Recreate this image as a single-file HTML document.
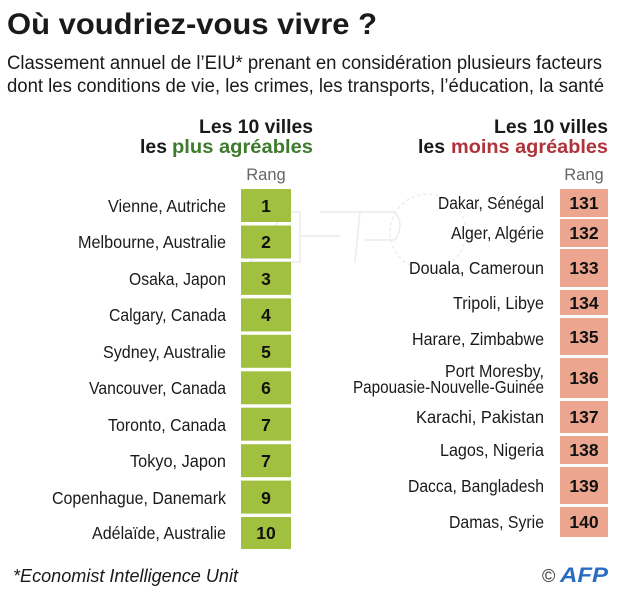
<!DOCTYPE html>
<html><head><meta charset="utf-8"><style>
html,body{margin:0;padding:0;background:#fff;}
svg{display:block;}
text{font-family:"Liberation Sans",sans-serif;fill:#1a1a1a;}
.lab{font-size:17.5px;}
.num{font-size:17.5px;font-weight:bold;fill:#111;}
.hd{font-size:19px;font-weight:bold;}
</style></head><body>
<svg width="623" height="591" viewBox="0 0 623 591" xmlns="http://www.w3.org/2000/svg">
<rect width="623" height="591" fill="#fff"/>
<!-- watermark -->
<g fill="none" stroke="#ececec" stroke-width="1.5">
<path d="M250 262 L285 212 L300 212 L300 262 Z"/>
<path d="M300 236 L340 236 M320 212 L360 212 L355 262"/>
<path d="M360 212 L395 212 Q405 225 395 240 L365 240"/>
<circle cx="428" cy="232" r="38" stroke-dasharray="3 3"/>
</g>
<text x="7" y="34" style="font-size:30px;font-weight:bold" textLength="370" lengthAdjust="spacingAndGlyphs">Où voudriez-vous vivre ?</text>
<text x="7" y="69" style="font-size:19px" textLength="595" lengthAdjust="spacingAndGlyphs">Classement annuel de l’EIU* prenant en considération plusieurs facteurs</text>
<text x="7" y="92" style="font-size:19px" textLength="597" lengthAdjust="spacingAndGlyphs">dont les conditions de vie, les crimes, les transports, l’éducation, la santé</text>

<text class="hd" x="199" y="133" textLength="114" lengthAdjust="spacingAndGlyphs">Les 10 villes</text>
<text class="hd" x="140" y="153" textLength="27" lengthAdjust="spacingAndGlyphs">les</text>
<text class="hd" x="172" y="153" textLength="141" lengthAdjust="spacingAndGlyphs" style="fill:#3e7b2c">plus agréables</text>
<text class="hd" x="494" y="133" textLength="114" lengthAdjust="spacingAndGlyphs">Les 10 villes</text>
<text class="hd" x="418" y="153" textLength="27" lengthAdjust="spacingAndGlyphs">les</text>
<text class="hd" x="451" y="153" textLength="157" lengthAdjust="spacingAndGlyphs" style="fill:#b0323a">moins agréables</text>

<text x="266" y="180" text-anchor="middle" style="font-size:16.5px;fill:#666">Rang</text>
<text x="584" y="180" text-anchor="middle" style="font-size:16.5px;fill:#666">Rang</text>

<!-- left boxes -->
<g fill="#a2c040">
<rect x="241" y="189" width="50" height="33"/>
<rect x="241" y="225.5" width="50" height="33"/>
<rect x="241" y="261.9" width="50" height="33"/>
<rect x="241" y="298.4" width="50" height="33"/>
<rect x="241" y="334.8" width="50" height="33"/>
<rect x="241" y="371.3" width="50" height="33"/>
<rect x="241" y="407.7" width="50" height="33"/>
<rect x="241" y="444.2" width="50" height="33"/>
<rect x="241" y="480.6" width="50" height="33"/>
<rect x="241" y="517" width="50" height="32"/>
</g>
<g>
<text class="lab" x="226" y="212" text-anchor="end" textLength="118" lengthAdjust="spacingAndGlyphs">Vienne, Autriche</text>
<text class="lab" x="226" y="248" text-anchor="end" textLength="148" lengthAdjust="spacingAndGlyphs">Melbourne, Australie</text>
<text class="lab" x="226" y="285" text-anchor="end" textLength="97" lengthAdjust="spacingAndGlyphs">Osaka, Japon</text>
<text class="lab" x="226" y="321" text-anchor="end" textLength="117" lengthAdjust="spacingAndGlyphs">Calgary, Canada</text>
<text class="lab" x="226" y="358" text-anchor="end" textLength="123" lengthAdjust="spacingAndGlyphs">Sydney, Australie</text>
<text class="lab" x="226" y="394" text-anchor="end" textLength="137" lengthAdjust="spacingAndGlyphs">Vancouver, Canada</text>
<text class="lab" x="226" y="431" text-anchor="end" textLength="118" lengthAdjust="spacingAndGlyphs">Toronto, Canada</text>
<text class="lab" x="226" y="467" text-anchor="end" textLength="96" lengthAdjust="spacingAndGlyphs">Tokyo, Japon</text>
<text class="lab" x="226" y="504" text-anchor="end" textLength="174" lengthAdjust="spacingAndGlyphs">Copenhague, Danemark</text>
<text class="lab" x="226" y="539" text-anchor="end" textLength="134" lengthAdjust="spacingAndGlyphs">Adélaïde, Australie</text>
</g>
<g>
<text class="num" x="266" y="212" text-anchor="middle">1</text>
<text class="num" x="266" y="248" text-anchor="middle">2</text>
<text class="num" x="266" y="285" text-anchor="middle">3</text>
<text class="num" x="266" y="321" text-anchor="middle">4</text>
<text class="num" x="266" y="358" text-anchor="middle">5</text>
<text class="num" x="266" y="394" text-anchor="middle">6</text>
<text class="num" x="266" y="431" text-anchor="middle">7</text>
<text class="num" x="266" y="467" text-anchor="middle">7</text>
<text class="num" x="266" y="504" text-anchor="middle">9</text>
<text class="num" x="266" y="539" text-anchor="middle">10</text>
</g>

<!-- right boxes -->
<g fill="#eca58f">
<rect x="560" y="189" width="48" height="28"/>
<rect x="560" y="219" width="48" height="28"/>
<rect x="560" y="249" width="48" height="38"/>
<rect x="560" y="290" width="48" height="25"/>
<rect x="560" y="318" width="48" height="37"/>
<rect x="560" y="358" width="48" height="40"/>
<rect x="560" y="401" width="48" height="32"/>
<rect x="560" y="436" width="48" height="28"/>
<rect x="560" y="467" width="48" height="37"/>
<rect x="560" y="507" width="48" height="30"/>
</g>
<g>
<text class="lab" x="544" y="209" text-anchor="end" textLength="106" lengthAdjust="spacingAndGlyphs">Dakar, Sénégal</text>
<text class="lab" x="544" y="239" text-anchor="end" textLength="93" lengthAdjust="spacingAndGlyphs">Alger, Algérie</text>
<text class="lab" x="544" y="274" text-anchor="end" textLength="135" lengthAdjust="spacingAndGlyphs">Douala, Cameroun</text>
<text class="lab" x="544" y="309" text-anchor="end" textLength="91" lengthAdjust="spacingAndGlyphs">Tripoli, Libye</text>
<text class="lab" x="544" y="345" text-anchor="end" textLength="132" lengthAdjust="spacingAndGlyphs">Harare, Zimbabwe</text>
<text class="lab" x="544" y="377" text-anchor="end" textLength="99" lengthAdjust="spacingAndGlyphs">Port Moresby,</text>
<text class="lab" x="544" y="393" text-anchor="end" textLength="191" lengthAdjust="spacingAndGlyphs">Papouasie-Nouvelle-Guinée</text>
<text class="lab" x="544" y="423" text-anchor="end" textLength="128" lengthAdjust="spacingAndGlyphs">Karachi, Pakistan</text>
<text class="lab" x="544" y="456" text-anchor="end" textLength="104" lengthAdjust="spacingAndGlyphs">Lagos, Nigeria</text>
<text class="lab" x="544" y="492" text-anchor="end" textLength="136" lengthAdjust="spacingAndGlyphs">Dacca, Bangladesh</text>
<text class="lab" x="544" y="528" text-anchor="end" textLength="95" lengthAdjust="spacingAndGlyphs">Damas, Syrie</text>
</g>
<g>
<text class="num" x="584" y="209" text-anchor="middle">131</text>
<text class="num" x="584" y="239" text-anchor="middle">132</text>
<text class="num" x="584" y="274" text-anchor="middle">133</text>
<text class="num" x="584" y="309" text-anchor="middle">134</text>
<text class="num" x="584" y="343" text-anchor="middle">135</text>
<text class="num" x="584" y="384" text-anchor="middle">136</text>
<text class="num" x="584" y="423" text-anchor="middle">137</text>
<text class="num" x="584" y="456" text-anchor="middle">138</text>
<text class="num" x="584" y="492" text-anchor="middle">139</text>
<text class="num" x="584" y="528" text-anchor="middle">140</text>
</g>

<text x="13" y="582" style="font-size:18.5px;font-style:italic" textLength="225" lengthAdjust="spacingAndGlyphs">*Economist Intelligence Unit</text>
<text x="542" y="582" style="font-size:18px;fill:#333">©</text>
<text x="560" y="582" style="font-size:21px;font-weight:bold;font-style:italic;fill:#2a6cc0" textLength="48" lengthAdjust="spacingAndGlyphs">AFP</text>
</svg>
</body></html>
